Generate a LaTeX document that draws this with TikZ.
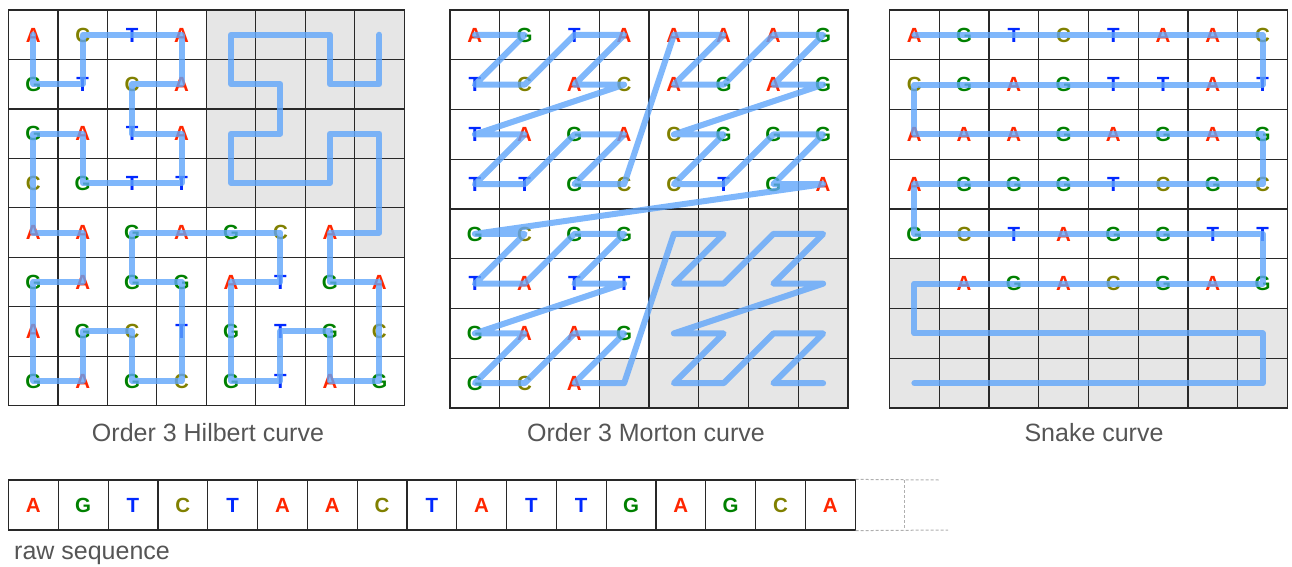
\documentclass[tikz,border=0pt]{standalone}
\usepackage{fontspec}
\setmainfont{Liberation Sans}
\definecolor{colA}{RGB}{255,38,0}
\definecolor{colG}{RGB}{0,128,0}
\definecolor{colT}{RGB}{0,40,255}
\definecolor{colC}{RGB}{128,128,0}
\definecolor{curveblue}{RGB}{95,165,250}
\definecolor{shadecell}{RGB}{230,230,230}
\definecolor{gridline}{RGB}{40,40,40}
\definecolor{labelgray}{RGB}{85,85,85}
\definecolor{dashgray}{RGB}{175,175,175}
\tikzset{
  lA/.style={text=colA}, lG/.style={text=colG}, lT/.style={text=colT}, lC/.style={text=colC},
  base/.style={font=\fontsize{20.5}{20.5}\selectfont\bfseries, inner sep=0pt, text height=14.6pt, text depth=0pt},
  curve/.style={draw=curveblue, line width=6pt, opacity=0.8, line join=round, line cap=round},
  cellgrid/.style={draw=gridline, line width=1.2pt},
  caption/.style={font=\fontsize{25}{27}\selectfont, text=labelgray, inner sep=0pt, anchor=base},
  seqcell/.style={draw=gridline, line width=1.2pt, minimum width=49.8pt, minimum height=50pt, inner sep=0pt},
  seqdash/.style={draw=dashgray, line width=1pt, dash pattern=on 3pt off 2pt},
}
\newcommand\cellcoords[1]{%
  \foreach \r in {0,...,7}{\foreach \c in {0,...,7}{\coordinate (#1-\r-\c) at (\c+0.5,\r+0.5);}}}
\newcommand\gridlines{%
  \foreach \i in {0,...,8}{\draw[cellgrid] (\i,0) -- (\i,8); \draw[cellgrid] (0,\i) -- (8,\i);}
  \draw[cellgrid, line join=miter] (0,0) rectangle (8,8);}
\newcommand\letterrow[3]{%
  \foreach \l [count=\c from 0] in {#3}{\if-\l\else\node[base,l\l] (#1l-#2-\c) at (#1-#2-\c) {\l};\fi}}
\begin{document}
\begin{tikzpicture}[x=1pt,y=-1pt]
\useasboundingbox (0,0) rectangle (1292,566);

% ---------- Hilbert ----------
\begin{scope}[shift={(8.5pt,-10pt)}, x=49.45pt, y=-49.45pt]
  \cellcoords{h}
  \fill[shadecell] (4,0) rectangle (8,4);
  \fill[shadecell] (7,4) rectangle (8,5);
  \gridlines
  \letterrow{h}{0}{A,C,T,A}
  \letterrow{h}{1}{G,T,C,A}
  \letterrow{h}{2}{G,A,T,A}
  \letterrow{h}{3}{C,G,T,T}
  \letterrow{h}{4}{A,A,G,A,G,C,A}
  \letterrow{h}{5}{G,A,G,G,A,T,G,A}
  \letterrow{h}{6}{A,G,C,T,G,T,G,C}
  \letterrow{h}{7}{G,A,G,C,G,T,A,G}
  \draw[curve] (h-0-0) foreach \r/\c in {1/0,1/1,0/1,0/2,0/3,1/3,1/2,2/2,2/3,3/3,3/2,3/1,2/1,2/0,3/0,4/0,4/1,5/1,5/0,6/0,7/0,7/1,6/1,6/2,7/2,7/3,6/3,5/3,5/2,4/2,4/3,4/4,4/5,5/5,5/4,6/4,7/4,7/5,6/5,6/6,7/6,7/7,6/7,5/7,5/6,4/6,4/7,3/7,2/7,2/6,3/6,3/5,3/4,2/4,2/5,1/5,1/4,0/4,0/5,0/6,1/6,1/7,0/7}{ -- (h-\r-\c) };
\end{scope}

% ---------- Morton ----------
\begin{scope}[shift={(450pt,-10pt)}, x=49.75pt, y=-49.75pt]
  \cellcoords{m}
  \fill[shadecell] (4,4) rectangle (8,8);
  \fill[shadecell] (3,7) rectangle (4,8);
  \gridlines
  \letterrow{m}{0}{A,G,T,A,A,A,A,G}
  \letterrow{m}{1}{T,C,A,C,A,G,A,G}
  \letterrow{m}{2}{T,A,G,A,C,G,G,G}
  \letterrow{m}{3}{T,T,G,C,C,T,G,A}
  \letterrow{m}{4}{G,C,G,G}
  \letterrow{m}{5}{T,A,T,T}
  \letterrow{m}{6}{G,A,A,G}
  \letterrow{m}{7}{G,C,A}
  \draw[curve] (m-0-0) foreach \r/\c in {0/1,1/0,1/1,0/2,0/3,1/2,1/3,2/0,2/1,3/0,3/1,2/2,2/3,3/2,3/3,0/4,0/5,1/4,1/5,0/6,0/7,1/6,1/7,2/4,2/5,3/4,3/5,2/6,2/7,3/6,3/7,4/0,4/1,5/0,5/1,4/2,4/3,5/2,5/3,6/0,6/1,7/0,7/1,6/2,6/3,7/2,7/3,4/4,4/5,5/4,5/5,4/6,4/7,5/6,5/7,6/4,6/5,7/4,7/5,6/6,6/7,7/6,7/7}{ -- (m-\r-\c) };
\end{scope}

% ---------- Snake ----------
\begin{scope}[shift={(889.5pt,-10pt)}, x=49.75pt, y=-49.75pt]
  \cellcoords{s}
  \fill[shadecell] (0,5) rectangle (1,6);
  \fill[shadecell] (0,6) rectangle (8,8);
  \gridlines
  \letterrow{s}{0}{A,G,T,C,T,A,A,C}
  \letterrow{s}{1}{C,G,A,G,T,T,A,T}
  \letterrow{s}{2}{A,A,A,G,A,G,A,G}
  \letterrow{s}{3}{A,G,G,G,T,C,G,C}
  \letterrow{s}{4}{G,C,T,A,G,G,T,T}
  \letterrow{s}{5}{-,A,G,A,C,G,A,G}
  \draw[curve] (s-0-0) foreach \r/\c in {0/7,1/7,1/0,2/0,2/7,3/7,3/0,4/0,4/7,5/7,5/0,6/0,6/7,7/7,7/0}{ -- (s-\r-\c) };
\end{scope}

% ---------- captions ----------
\node[caption] (caph) at (208,441) {Order 3 Hilbert curve};
\node[caption] (capm) at (646,441) {Order 3 Morton curve};
\node[caption] (caps) at (1094,441) {Snake curve};

% ---------- raw sequence ----------
\foreach \l [count=\i from 0] in {A,G,T,C,T,A,A,C,T,A,T,T,G,A,G,C,A}{
  \node[seqcell] (q-\i) at ({8.5+49.8*(\i+0.5)},505) {};
  \node[base,l\l] (ql-\i) at (q-\i.center) {\l};
}
\coordinate (dtop) at (940,480);
\coordinate (dbot) at (948,530);
\coordinate (dmidt) at (904,480);
\coordinate (dmidb) at (904,530);
\draw[seqdash] (q-16.north east) -- (dtop);
\draw[seqdash] (q-16.south east) -- (dbot);
\draw[seqdash] (dmidt) -- (dmidb);
\node[caption, anchor=base west] (rawlabel) at (14,559) {raw sequence};
\end{tikzpicture}
\end{document}
